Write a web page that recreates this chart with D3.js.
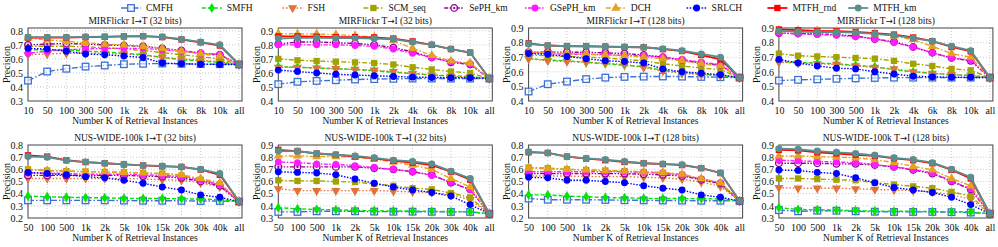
<!DOCTYPE html>
<html>
<head>
<meta charset="utf-8">
<script src="https://cdn.jsdelivr.net/npm/d3@7"></script>
<style>
  body { margin: 0; background: #fff; }
  text { font-family: "Liberation Serif", "Times New Roman", serif; fill: #111; }
</style>
</head>
<body>
<div id="chart"></div>
<script>
// methods, in legend order
const methods = ['CMFH', 'SMFH', 'FSH', 'SCM_seq', 'SePH_km', 'GSePH_km', 'DCH', 'SRLCH', 'MTFH_rnd', 'MTFH_km']

// x tick labels
const kMir = ['10', '50', '100', '300', '500', '1k', '2k', '4k', '6k', '8k', '10k', 'all']
const kNus = ['50', '100', '500', '1k', '2k', '5k', '10k', '15k', '20k', '30k', '40k', 'all']

// precision values, one row per method (legend order)
const mirIT32 = [
  [0.445, 0.51, 0.53, 0.545, 0.553, 0.562, 0.565, 0.567, 0.565, 0.563, 0.562, 0.56],
  [0.665, 0.665, 0.665, 0.655, 0.65, 0.64, 0.63, 0.61, 0.595, 0.585, 0.575, 0.56],
  [0.63, 0.635, 0.64, 0.64, 0.64, 0.635, 0.625, 0.61, 0.6, 0.59, 0.58, 0.56],
  [0.69, 0.69, 0.69, 0.685, 0.68, 0.67, 0.66, 0.645, 0.63, 0.615, 0.6, 0.56],
  [0.7, 0.705, 0.71, 0.705, 0.7, 0.695, 0.69, 0.675, 0.66, 0.64, 0.63, 0.56],
  [0.64, 0.655, 0.665, 0.67, 0.675, 0.675, 0.675, 0.665, 0.655, 0.64, 0.63, 0.56],
  [0.75, 0.735, 0.725, 0.715, 0.705, 0.7, 0.69, 0.675, 0.655, 0.635, 0.62, 0.56],
  [0.675, 0.67, 0.655, 0.635, 0.63, 0.62, 0.61, 0.57, 0.565, 0.562, 0.56, 0.56],
  [0.752, 0.752, 0.752, 0.755, 0.757, 0.76, 0.762, 0.755, 0.738, 0.718, 0.695, 0.56],
  [0.755, 0.755, 0.755, 0.757, 0.758, 0.76, 0.762, 0.757, 0.74, 0.72, 0.7, 0.56]
]
const mirTI32 = [
  [0.52, 0.537, 0.543, 0.548, 0.553, 0.556, 0.558, 0.56, 0.56, 0.56, 0.56, 0.56],
  [0.645, 0.64, 0.635, 0.63, 0.625, 0.615, 0.605, 0.595, 0.585, 0.58, 0.575, 0.56],
  [0.64, 0.64, 0.635, 0.63, 0.625, 0.62, 0.61, 0.595, 0.585, 0.575, 0.57, 0.56],
  [0.7, 0.69, 0.685, 0.68, 0.675, 0.67, 0.66, 0.64, 0.625, 0.61, 0.6, 0.56],
  [0.805, 0.82, 0.82, 0.815, 0.81, 0.8, 0.78, 0.75, 0.71, 0.675, 0.66, 0.56],
  [0.8, 0.8, 0.8, 0.8, 0.795, 0.79, 0.77, 0.74, 0.71, 0.68, 0.665, 0.56],
  [0.88, 0.878, 0.877, 0.873, 0.865, 0.855, 0.83, 0.775, 0.725, 0.685, 0.67, 0.56],
  [0.62, 0.61, 0.6, 0.59, 0.585, 0.58, 0.575, 0.57, 0.568, 0.566, 0.565, 0.56],
  [0.86, 0.86, 0.858, 0.855, 0.855, 0.853, 0.845, 0.825, 0.8, 0.77, 0.745, 0.56],
  [0.845, 0.85, 0.85, 0.848, 0.848, 0.845, 0.84, 0.82, 0.8, 0.77, 0.745, 0.56]
]
const mirIT128 = [
  [0.465, 0.515, 0.533, 0.55, 0.56, 0.565, 0.567, 0.568, 0.567, 0.565, 0.563, 0.56],
  [0.69, 0.68, 0.675, 0.665, 0.655, 0.645, 0.635, 0.61, 0.595, 0.585, 0.575, 0.56],
  [0.69, 0.675, 0.67, 0.665, 0.66, 0.65, 0.63, 0.605, 0.59, 0.58, 0.575, 0.56],
  [0.715, 0.71, 0.705, 0.7, 0.695, 0.685, 0.675, 0.655, 0.64, 0.625, 0.615, 0.56],
  [0.735, 0.735, 0.735, 0.733, 0.73, 0.725, 0.715, 0.7, 0.68, 0.66, 0.645, 0.56],
  [0.73, 0.725, 0.72, 0.72, 0.718, 0.712, 0.71, 0.7, 0.685, 0.665, 0.65, 0.56],
  [0.735, 0.73, 0.725, 0.72, 0.715, 0.71, 0.7, 0.69, 0.675, 0.655, 0.64, 0.56],
  [0.725, 0.72, 0.705, 0.69, 0.675, 0.67, 0.66, 0.62, 0.6, 0.59, 0.58, 0.56],
  [0.795, 0.78, 0.776, 0.775, 0.773, 0.77, 0.768, 0.755, 0.742, 0.715, 0.685, 0.56],
  [0.79, 0.78, 0.775, 0.775, 0.772, 0.77, 0.768, 0.758, 0.745, 0.722, 0.7, 0.56]
]
const mirTI128 = [
  [0.54, 0.545, 0.548, 0.552, 0.555, 0.558, 0.56, 0.56, 0.56, 0.56, 0.56, 0.56],
  [0.67, 0.665, 0.66, 0.655, 0.645, 0.635, 0.615, 0.6, 0.59, 0.58, 0.575, 0.56],
  [0.665, 0.66, 0.655, 0.65, 0.64, 0.63, 0.62, 0.6, 0.59, 0.58, 0.575, 0.56],
  [0.725, 0.71, 0.705, 0.7, 0.695, 0.69, 0.675, 0.655, 0.64, 0.62, 0.61, 0.56],
  [0.865, 0.862, 0.86, 0.855, 0.845, 0.825, 0.805, 0.77, 0.73, 0.695, 0.675, 0.56],
  [0.865, 0.86, 0.855, 0.85, 0.84, 0.825, 0.8, 0.77, 0.73, 0.695, 0.68, 0.56],
  [0.885, 0.883, 0.882, 0.878, 0.87, 0.86, 0.845, 0.82, 0.775, 0.725, 0.7, 0.56],
  [0.685, 0.66, 0.64, 0.625, 0.62, 0.6, 0.585, 0.57, 0.565, 0.563, 0.562, 0.56],
  [0.89, 0.885, 0.88, 0.878, 0.873, 0.865, 0.855, 0.835, 0.81, 0.77, 0.74, 0.56],
  [0.88, 0.875, 0.872, 0.872, 0.868, 0.86, 0.85, 0.83, 0.81, 0.775, 0.745, 0.56]
]
const nusIT32 = [
  [0.345, 0.345, 0.345, 0.345, 0.345, 0.343, 0.342, 0.342, 0.341, 0.34, 0.34, 0.335],
  [0.38, 0.375, 0.37, 0.368, 0.365, 0.362, 0.36, 0.36, 0.358, 0.355, 0.352, 0.335],
  [0.525, 0.525, 0.525, 0.525, 0.525, 0.525, 0.52, 0.515, 0.51, 0.49, 0.455, 0.335],
  [0.6, 0.59, 0.585, 0.582, 0.578, 0.575, 0.57, 0.565, 0.55, 0.515, 0.475, 0.335],
  [0.55, 0.55, 0.55, 0.55, 0.55, 0.55, 0.545, 0.54, 0.53, 0.5, 0.465, 0.335],
  [0.57, 0.57, 0.565, 0.56, 0.56, 0.56, 0.555, 0.55, 0.54, 0.51, 0.475, 0.335],
  [0.595, 0.59, 0.585, 0.58, 0.58, 0.575, 0.57, 0.565, 0.555, 0.525, 0.49, 0.335],
  [0.575, 0.565, 0.555, 0.54, 0.53, 0.51, 0.485, 0.455, 0.43, 0.39, 0.37, 0.335],
  [0.715, 0.705, 0.675, 0.66, 0.65, 0.64, 0.632, 0.625, 0.62, 0.598, 0.555, 0.335],
  [0.705, 0.7, 0.672, 0.66, 0.65, 0.64, 0.632, 0.628, 0.62, 0.6, 0.565, 0.335]
]
const nusTI32 = [
  [0.35, 0.35, 0.355, 0.355, 0.355, 0.353, 0.352, 0.352, 0.351, 0.35, 0.35, 0.335],
  [0.385, 0.375, 0.37, 0.368, 0.362, 0.36, 0.358, 0.357, 0.355, 0.353, 0.352, 0.335],
  [0.54, 0.525, 0.525, 0.525, 0.525, 0.525, 0.52, 0.515, 0.51, 0.49, 0.45, 0.335],
  [0.61, 0.605, 0.605, 0.6, 0.595, 0.58, 0.565, 0.545, 0.535, 0.505, 0.47, 0.335],
  [0.72, 0.72, 0.72, 0.72, 0.72, 0.71, 0.7, 0.68, 0.655, 0.59, 0.535, 0.335],
  [0.76, 0.755, 0.745, 0.74, 0.73, 0.715, 0.7, 0.68, 0.65, 0.595, 0.535, 0.335],
  [0.81, 0.81, 0.805, 0.805, 0.8, 0.785, 0.76, 0.735, 0.7, 0.625, 0.555, 0.335],
  [0.68, 0.675, 0.67, 0.655, 0.62, 0.585, 0.555, 0.53, 0.51, 0.48, 0.41, 0.335],
  [0.86, 0.85, 0.83, 0.82, 0.805, 0.79, 0.77, 0.755, 0.735, 0.68, 0.615, 0.335],
  [0.85, 0.85, 0.83, 0.82, 0.81, 0.795, 0.775, 0.765, 0.745, 0.685, 0.625, 0.335]
]
const nusIT128 = [
  [0.36, 0.35, 0.35, 0.35, 0.348, 0.346, 0.345, 0.344, 0.343, 0.342, 0.342, 0.34],
  [0.39, 0.39, 0.38, 0.375, 0.368, 0.365, 0.362, 0.36, 0.36, 0.358, 0.357, 0.34],
  [0.545, 0.545, 0.545, 0.54, 0.54, 0.54, 0.535, 0.53, 0.52, 0.495, 0.46, 0.34],
  [0.615, 0.61, 0.6, 0.595, 0.59, 0.585, 0.578, 0.57, 0.555, 0.515, 0.475, 0.34],
  [0.565, 0.565, 0.565, 0.565, 0.565, 0.565, 0.56, 0.555, 0.545, 0.515, 0.485, 0.34],
  [0.58, 0.58, 0.58, 0.58, 0.58, 0.58, 0.575, 0.57, 0.555, 0.52, 0.49, 0.34],
  [0.61, 0.605, 0.6, 0.595, 0.59, 0.585, 0.58, 0.575, 0.56, 0.525, 0.49, 0.34],
  [0.535, 0.53, 0.51, 0.51, 0.5, 0.49, 0.465, 0.445, 0.43, 0.39, 0.37, 0.34],
  [0.74, 0.735, 0.705, 0.688, 0.675, 0.66, 0.65, 0.643, 0.635, 0.61, 0.57, 0.34],
  [0.745, 0.735, 0.705, 0.69, 0.68, 0.665, 0.65, 0.645, 0.638, 0.61, 0.57, 0.34]
]
const nusTI128 = [
  [0.365, 0.355, 0.36, 0.36, 0.355, 0.352, 0.35, 0.35, 0.35, 0.348, 0.345, 0.335],
  [0.385, 0.37, 0.368, 0.365, 0.36, 0.357, 0.355, 0.355, 0.353, 0.352, 0.35, 0.335],
  [0.55, 0.545, 0.545, 0.545, 0.54, 0.535, 0.53, 0.525, 0.515, 0.49, 0.455, 0.335],
  [0.625, 0.625, 0.62, 0.615, 0.61, 0.59, 0.575, 0.56, 0.545, 0.515, 0.48, 0.335],
  [0.75, 0.75, 0.75, 0.745, 0.745, 0.735, 0.72, 0.695, 0.665, 0.6, 0.535, 0.335],
  [0.775, 0.77, 0.765, 0.76, 0.755, 0.74, 0.72, 0.7, 0.67, 0.605, 0.54, 0.335],
  [0.81, 0.81, 0.805, 0.8, 0.795, 0.78, 0.755, 0.725, 0.695, 0.625, 0.565, 0.335],
  [0.695, 0.69, 0.675, 0.665, 0.63, 0.59, 0.55, 0.53, 0.51, 0.47, 0.41, 0.335],
  [0.86, 0.855, 0.84, 0.83, 0.82, 0.81, 0.79, 0.775, 0.75, 0.695, 0.625, 0.335],
  [0.87, 0.865, 0.85, 0.84, 0.83, 0.815, 0.795, 0.78, 0.755, 0.7, 0.635, 0.335]
]

// titles: [dataset, direction, bits]
const titles = [
  ['MIRFlickr', 'I\u2192T', '32 bits'], ['MIRFlickr', 'T\u2192I', '32 bits'],
  ['MIRFlickr', 'I\u2192T', '128 bits'], ['MIRFlickr', 'T\u2192I', '128 bits'],
  ['NUS-WIDE-100k', 'I\u2192T', '32 bits'], ['NUS-WIDE-100k', 'T\u2192I', '32 bits'],
  ['NUS-WIDE-100k', 'I\u2192T', '128 bits'], ['NUS-WIDE-100k', 'T\u2192I', '128 bits']
]
const panelData = [mirIT32, mirTI32, mirIT128, mirTI128, nusIT32, nusTI32, nusIT128, nusTI128]
const yRanges = [[0.3, 0.82], [0.4, 0.92], [0.4, 0.9], [0.4, 0.9], [0.2, 0.8], [0.3, 0.9], [0.2, 0.8], [0.3, 0.9]]
const yTicks = [[0.3, 0.8], [0.4, 0.9], [0.4, 0.9], [0.4, 0.9], [0.2, 0.8], [0.3, 0.9], [0.2, 0.8], [0.3, 0.9]]

// styles
const colors = ['#3c70d6', '#00e600', '#e0733a', '#a3a300', '#8e008e', '#ff1aff', '#e6a21e', '#0000ff', '#ff0000', '#5b8f8f']
const dashes = ['6,2,1.5,2', '4,2', '1.5,2', '5,2,1.5,2', '4,1.5,1.5,1.5,1.5,1.5', '1.5,1.5,4,1.5', '5,2,1.5,2', '1.5,1.5', null, null]
const shapes = ['squareOpen', 'diamond', 'triangleDown', 'square', 'circleDot', 'circle', 'triangle', 'circle', 'square', 'circle']

const W = 998
const H = 247
const svg = d3.select('#chart').append('svg').attr('width', W).attr('height', H)

function drawMarker (g, shape, color, x, y) {
  const m = g.append('g').attr('transform', `translate(${x},${y})`)
  if (shape === 'squareOpen') {
    m.append('rect').attr('x', -3.3).attr('y', -3.3).attr('width', 6.6).attr('height', 6.6)
      .attr('fill', '#fff').attr('fill-opacity', 0.6).attr('stroke', color).attr('stroke-width', 1.3)
  } else if (shape === 'circleDot') {
    m.append('circle').attr('r', 3.3).attr('fill', '#fff').attr('fill-opacity', 0.6).attr('stroke', color).attr('stroke-width', 1.3)
    m.append('circle').attr('r', 1.1).attr('fill', color)
  } else {
    const types = { diamond: d3.symbolDiamond, triangleDown: d3.symbolTriangle, square: d3.symbolSquare, circle: d3.symbolCircle, triangle: d3.symbolTriangle }
    const size = { diamond: 30, triangleDown: 36, square: 40, circle: 38, triangle: 36 }[shape]
    m.append('path').attr('d', d3.symbol().type(types[shape]).size(size)())
      .attr('transform', shape === 'triangleDown' ? 'rotate(180)' : null)
      .attr('fill', color)
  }
}

// legend
const legend = svg.append('g').attr('class', 'legend')
methods.forEach((name, i) => {
  const x0 = 121 + i * 80.8
  const y0 = 8
  legend.append('line')
    .attr('x1', x0).attr('x2', x0 + 20).attr('y1', y0).attr('y2', y0)
    .attr('stroke', colors[i]).attr('stroke-width', i >= 8 ? 1.8 : 1.4)
    .attr('stroke-dasharray', dashes[i])
  drawMarker(legend, shapes[i], colors[i], x0 + 10, y0)
  legend.append('text')
    .attr('x', x0 + 25).attr('y', y0).attr('dy', '0.35em')
    .style('font-size', '9.5px')
    .text(name)
})

// panels
const panelW = 214
const panelH = 73
panelData.forEach((rows, p) => {
  const col = p % 4
  const row = Math.floor(p / 4)
  const left = 28 + col * 250.3
  const top = row === 0 ? 28 : 145
  const labels = row === 0 ? kMir : kNus

  const x = d3.scalePoint().domain(labels).range([left, left + 211])
  const y = d3.scaleLinear().domain(yRanges[p]).range([top + panelH, top])
  const ticks = d3.range(yTicks[p][0], yTicks[p][1] + 0.001, 0.1).map(v => +v.toFixed(1))

  const g = svg.append('g').attr('class', 'panel')

  // grid
  g.append('g').selectAll('line').data(ticks.filter(t => t > yRanges[p][0] && t < yRanges[p][1]))
    .enter().append('line')
    .attr('x1', left).attr('x2', left + panelW)
    .attr('y1', d => y(d)).attr('y2', d => y(d))
    .attr('stroke', '#bbb').attr('stroke-width', 0.8).attr('stroke-dasharray', '1,2')
  g.append('g').selectAll('line').data(labels.slice(1))
    .enter().append('line')
    .attr('x1', d => x(d)).attr('x2', d => x(d))
    .attr('y1', top).attr('y2', top + panelH)
    .attr('stroke', '#bbb').attr('stroke-width', 0.8).attr('stroke-dasharray', '1,2')

  // y axis
  const yAxis = d3.axisLeft(y).tickValues(ticks).tickSize(0).tickPadding(5).tickFormat(d3.format('.1f'))
  const ya = g.append('g').attr('transform', `translate(${left},0)`).call(yAxis)
  ya.select('.domain').remove()
  ya.selectAll('text').style('font-size', '10px').style('font-family', '"Liberation Serif", serif')

  // x axis
  const xAxis = d3.axisBottom(x).tickSize(0).tickPadding(6)
  const xa = g.append('g').attr('transform', `translate(0,${top + panelH})`).call(xAxis)
  xa.select('.domain').remove()
  xa.selectAll('text').style('font-size', '10px').style('font-family', '"Liberation Serif", serif')

  // frame
  g.append('rect')
    .attr('x', left).attr('y', top).attr('width', panelW).attr('height', panelH)
    .attr('fill', 'none').attr('stroke', '#444').attr('stroke-width', 1)

  // title (arrow set in DejaVu so it has a proper width)
  const t = g.append('text')
    .attr('x', left + panelW / 2).attr('y', top - 7).attr('dy', '0.35em')
    .attr('text-anchor', 'middle').style('font-size', '9.5px')
  const [ds, dir, bits] = titles[p]
  t.append('tspan').text(`${ds} ${dir[0]}`)
  t.append('tspan').style('font-family', '"DejaVu Sans", sans-serif').style('font-size', '8.5px').text(dir[1])
  t.append('tspan').text(`${dir[2]} (${bits})`)

  g.append('text')
    .attr('x', left + panelW / 2).attr('y', top + panelH + 20).attr('dy', '0.35em')
    .attr('text-anchor', 'middle').style('font-size', '9.5px')
    .text('Number K of Retrieval Instances')
  g.append('text')
    .attr('transform', `translate(${left - 22},${top + panelH / 2}) rotate(-90)`)
    .attr('dy', '0.35em').attr('text-anchor', 'middle').style('font-size', '10px')
    .text('Precision')

  // series
  const line = d3.line().x((d, i) => x(labels[i])).y(d => y(d))
  rows.forEach((vals, s) => {
    g.append('path')
      .datum(vals)
      .attr('d', line)
      .attr('fill', 'none')
      .attr('stroke', colors[s])
      .attr('stroke-width', s >= 8 ? 1.8 : 1.4)
      .attr('stroke-dasharray', dashes[s])
    vals.forEach((v, i) => drawMarker(g, shapes[s], colors[s], x(labels[i]), y(v)))
  })
})
</script>
</body>
</html>
